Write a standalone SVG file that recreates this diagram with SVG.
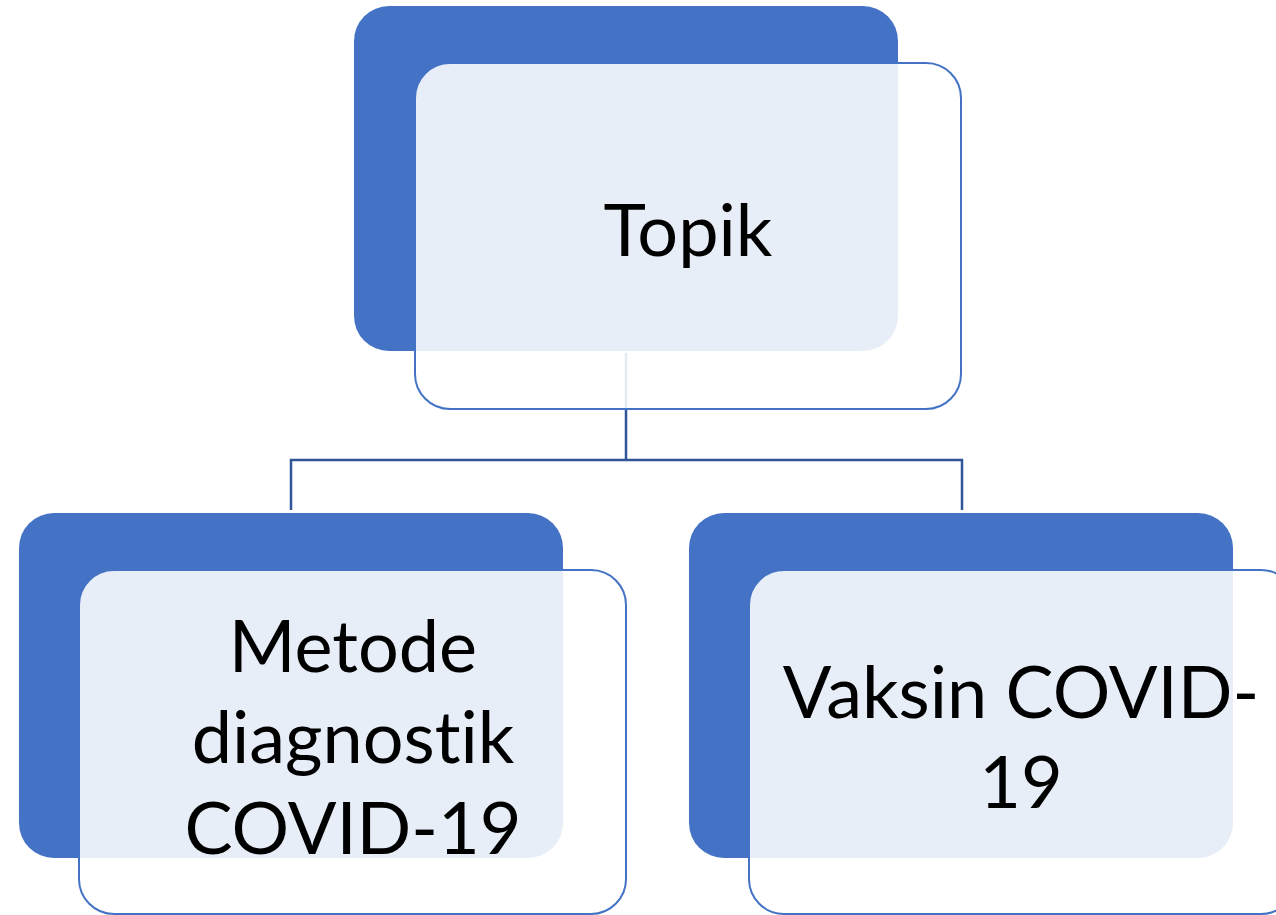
<svg xmlns="http://www.w3.org/2000/svg" width="1276" height="915" viewBox="0 0 1276 915">
<style>
.back{fill:#4472C4;}
.front{fill:#FFFFFF;fill-opacity:0.88;stroke:#4472C4;stroke-width:2;}
.lbl{font-family:Lato,"Liberation Sans",sans-serif;font-size:72px;fill:#000000;text-anchor:middle;font-variant-ligatures:none;font-feature-settings:"liga" 0,"clig" 0,"dlig" 0;}
.conn{fill:none;stroke:#2F5597;stroke-width:2.5;}
</style>
<rect width="1276" height="915" fill="#FFFFFF"/>
<g id="connectors">
<path class="conn" d="M626,353 V460 M291,510 V460 H962 V510"/>
</g>
<g id="node-topik">
<rect class="back" x="354" y="6" width="544" height="345" rx="35" ry="35"/>
<rect class="front" x="415" y="63" width="546" height="346" rx="35" ry="35"/>
<text class="lbl" x="688" y="256">Topik</text>
</g>
<g id="node-metode">
<rect class="back" x="19" y="513" width="544" height="345" rx="35" ry="35"/>
<rect class="front" x="79" y="570" width="547" height="344" rx="35" ry="35"/>
<text class="lbl" x="353" y="672">Metode</text>
<text class="lbl" x="353" y="763">diagnostik</text>
<text class="lbl" x="353" y="854">COVID-19</text>
</g>
<g id="node-vaksin">
<rect class="back" x="689" y="513" width="544" height="345" rx="35" ry="35"/>
<rect class="front" x="749" y="570" width="547" height="344" rx="35" ry="35"/>
<text class="lbl" x="1021" y="718">Vaksin COVID-</text>
<text class="lbl" x="1021" y="808">19</text>
</g>
</svg>
